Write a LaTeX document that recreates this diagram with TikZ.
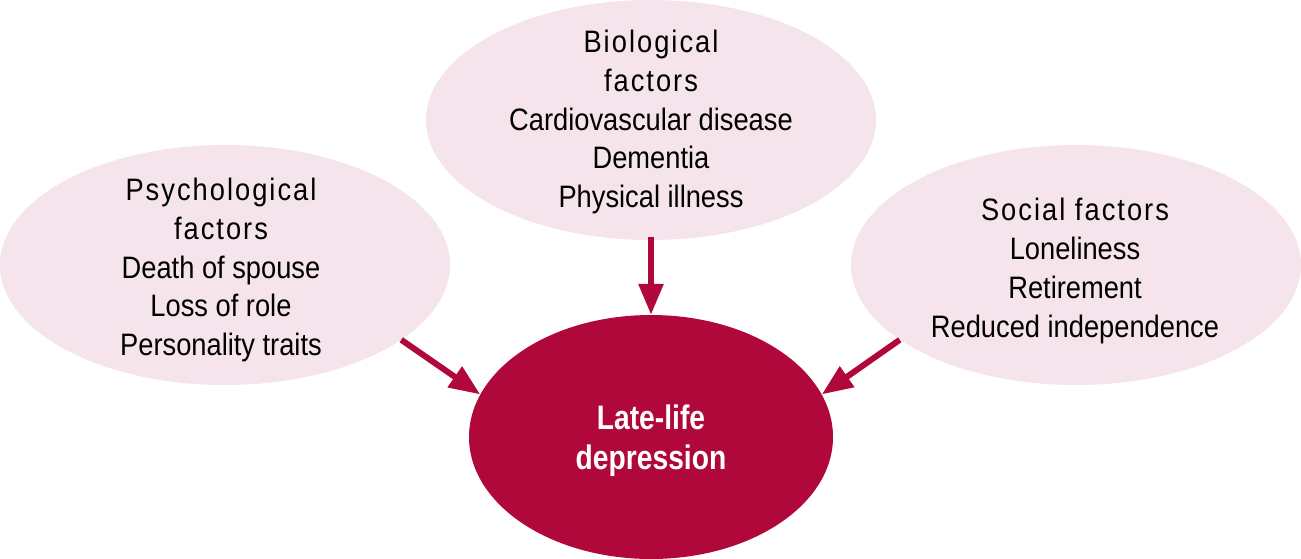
\documentclass[tikz,border=0pt]{standalone}
\usepackage{fontspec}
\usetikzlibrary{shapes.geometric,arrows.meta}
\newfontfamily\bodyfont[FakeStretch=0.88]{Liberation Sans}
\newfontfamily\titlefont[FakeStretch=0.88,LetterSpace=6.5]{Liberation Sans}
\newfontfamily\mainlabelfont[FakeStretch=0.83]{Liberation Sans}
\definecolor{darkred}{HTML}{B0083A}
\definecolor{lightpink}{HTML}{F5E4EC}
\newcommand{\ttl}[1]{{\titlefont #1}}
\tikzset{
  factor/.style={ellipse, fill=lightpink, draw=none, inner sep=0pt,
    minimum width=450pt, minimum height=240pt},
  factortext/.style={align=center, inner sep=0pt,
    font=\bodyfont\fontsize{31}{38.8}\selectfont},
  centre/.style={ellipse, fill=darkred, draw=none, inner sep=0pt,
    minimum width=364pt, minimum height=244pt},
  centretext/.style={align=center, text=white, inner sep=0pt,
    font=\mainlabelfont\bfseries\fontsize{34}{40}\selectfont},
  arr/.style={draw=darkred, line width=6pt,
    -{Triangle[length=31pt,width=24pt]}}
}
\begin{document}
\begin{tikzpicture}[x=1pt,y=-1pt]
\useasboundingbox (0,0) rectangle (1301,559);
\node[factor] (psy) at (225,265) {};
\node[factor] (bio) at (651,120) {};
\node[factor] (soc) at (1076,265) {};
\node[centre] (dep) at (651,437) {};
\node[factortext] (psyt) at (221,270) {\ttl{Psychological}\\\ttl{factors}\\Death of spouse\\Loss of role\\Personality traits};
\node[factortext] (biot) at (651,122) {\ttl{Biological}\\\ttl{factors}\\Cardiovascular disease\\Dementia\\Physical illness};
\node[factortext] (soct) at (1075,271) {\ttl{Social factors}\\Loneliness\\Retirement\\Reduced independence};
\node[centretext] (dept) at (651,441) {Late-life\\depression};
\draw[arr] (bio.south) ++(0,3pt) -- (dep.north);
\draw[arr] (psy.-23) -- (dep.166);
\draw[arr] (soc.203) -- (dep.14);
\end{tikzpicture}
\end{document}
